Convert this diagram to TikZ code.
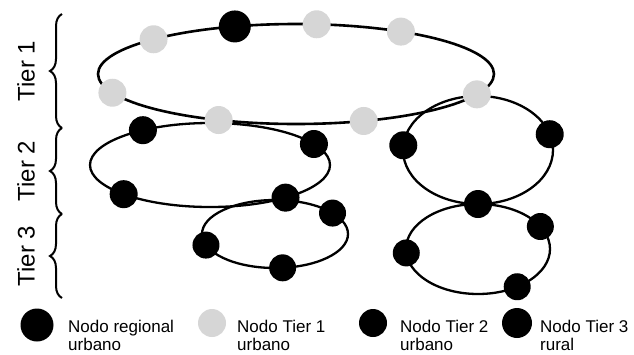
\documentclass[tikz,border=0pt]{standalone}
\usepackage{fontspec}
\setmainfont{Liberation Sans}
\usetikzlibrary{positioning,decorations.pathreplacing}
\definecolor{stipple}{HTML}{D6D6D6}
\tikzset{
  ring/.style   ={draw=black, line width=2.3pt},
  reg/.style    ={circle, fill=black, minimum size=32pt, inner sep=0pt},
  nt1/.style    ={circle, fill=stipple, minimum size=28pt, inner sep=0pt},
  nt2/.style    ={circle, fill=black, minimum size=28pt, inner sep=0pt},
  nt3/.style    ={circle, fill=black, minimum size=27pt, inner sep=0pt},
  tierbr/.style ={decorate, decoration={brace,amplitude=12pt},
                  line width=2pt},
  tierlab/.style={rotate=90, inner sep=0pt,
                  font=\fontsize{24}{24}\selectfont},
  legtxt/.style ={anchor=north west, align=left, inner sep=0pt,
                  font=\fontsize{17}{18}\selectfont}
}

\begin{document}
\begin{tikzpicture}[x=1pt, y=-1pt]
\useasboundingbox (0,0) rectangle (634,354);

% ring centres
\coordinate (c1)  at (296,74);
\coordinate (c2l) at (210,165);
\coordinate (c3l) at (275,234);
\coordinate (c2r) at (478,150);
\coordinate (c3r) at (478,249);

\draw[ring, line width=2.6pt] (c1) ellipse [x radius=198, y radius=50];
\draw[ring] (c2l) ellipse [x radius=120, y radius=42];
\draw[ring] (c3l) ellipse [x radius=73,  y radius=34];
\draw[ring] (c2r) ellipse [x radius=75,  y radius=54];
\draw[ring] (c3r) ellipse [x radius=72,  y radius=45];

% tier 1 ring
\node[reg] (r1) at ([shift={(-108:198 and 50)}]c1) {};
\foreach \a/\n in {-136/a,-84/b,-58/c,24/d,70/e,113/f,158/g}
  \node[nt1] (t1\n) at ([shift={(\a:198 and 50)}]c1) {};

% tier 2 rings
\foreach \a/\n in {-124/a,-30/b,136/c,51/d}
  \node[nt2] (t2l\n) at ([shift={(\a:120 and 42)}]c2l) {};
\foreach \a/\n in {-175/a,-17/b,90/c}
  \node[nt2] (t2r\n) at ([shift={(\a:75 and 54)}]c2r) {};

% tier 3 rings
\foreach \a/\n in {-38/a,161/b,84/c}
  \node[nt3] (t3l\n) at ([shift={(\a:73 and 34)}]c3l) {};
\foreach \a/\n in {-30/a,175/b,57/c}
  \node[nt3] (t3r\n) at ([shift={(\a:72 and 45)}]c3r) {};

% tier braces
\coordinate (b0) at (62,14);
\coordinate (b1) at (62,128);
\coordinate (b2) at (62,214);
\coordinate (b3) at (62,298);
\foreach \u/\l in {b1/b0,b2/b1,b3/b2} \draw[tierbr] (\u) -- (\l);
\node[tierlab] (l1) at (26,71)  {Tier 1};
\node[tierlab] (l2) at (26,171) {Tier 2};
\node[tierlab] (l3) at (26,256) {Tier 3};

% legend
\node[reg, minimum size=33pt] (lg1) at (37,325) {};
\node[nt1] (lg2) at (212,323) {};
\node[nt2] (lg3) at (373,323) {};
\node[nt3, minimum size=30pt] (lg4) at (517,323) {};
\node[legtxt] (tx1) at (68,320)  {Nodo regional\\urbano};
\node[legtxt] (tx2) at (237,320) {Nodo Tier 1\\urbano};
\node[legtxt] (tx3) at (400,320) {Nodo Tier 2\\urbano};
\node[legtxt] (tx4) at (540,320) {Nodo Tier 3\\rural};
\end{tikzpicture}
\end{document}
